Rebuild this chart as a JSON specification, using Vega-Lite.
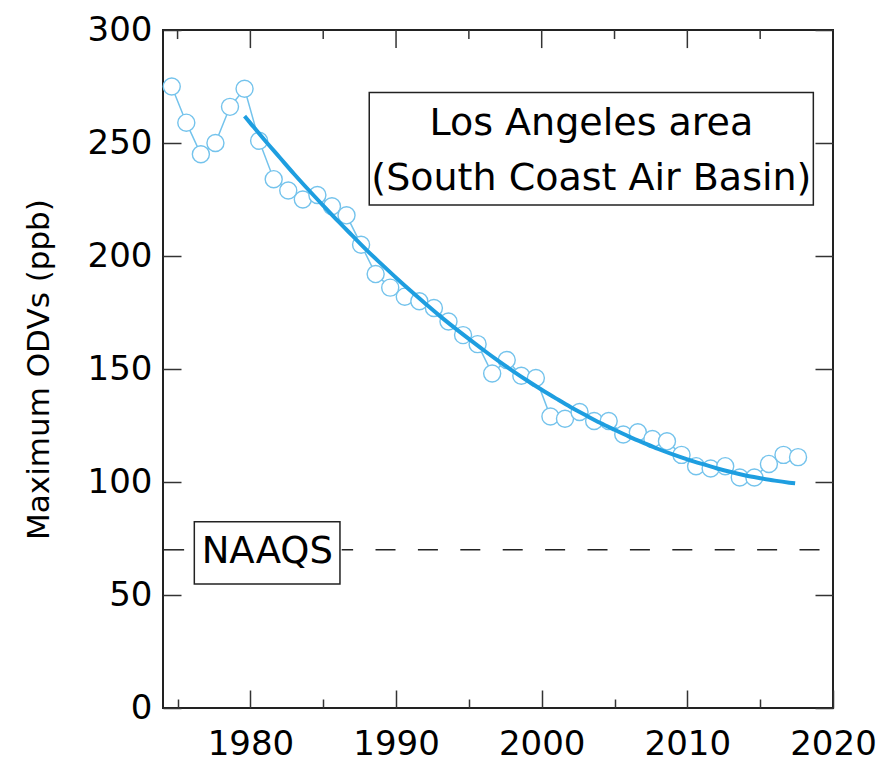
{
  "$schema": "https://vega.github.io/schema/vega-lite/v6.json",
  "autosize": {"type": "none"},
  "width": 670,
  "height": 678,
  "padding": {"left": 163, "top": 30, "right": 50, "bottom": 59},
  "background": "white",
  "config": {
    "view": {"stroke": "#222222", "strokeWidth": 2},
    "axis": {"domain": false, "grid": false, "tickColor": "#333333", "tickWidth": 1.5, "labelFont": "DejaVu Sans", "labelColor": "#000000", "titleFont": "DejaVu Sans", "titleColor": "#000000", "titleFontWeight": "normal"}
  },
  "datasets": {
    "odv": [
      {"year": 1974.6, "odv": 275}, {"year": 1975.6, "odv": 259}, {"year": 1976.6, "odv": 245},
      {"year": 1977.6, "odv": 250}, {"year": 1978.6, "odv": 266}, {"year": 1979.6, "odv": 274},
      {"year": 1980.6, "odv": 251}, {"year": 1981.6, "odv": 234}, {"year": 1982.6, "odv": 229},
      {"year": 1983.6, "odv": 225}, {"year": 1984.6, "odv": 227}, {"year": 1985.6, "odv": 222},
      {"year": 1986.6, "odv": 218}, {"year": 1987.6, "odv": 205}, {"year": 1988.6, "odv": 192},
      {"year": 1989.6, "odv": 186}, {"year": 1990.6, "odv": 182}, {"year": 1991.6, "odv": 180},
      {"year": 1992.6, "odv": 177}, {"year": 1993.6, "odv": 171}, {"year": 1994.6, "odv": 165},
      {"year": 1995.6, "odv": 161}, {"year": 1996.6, "odv": 148}, {"year": 1997.6, "odv": 154},
      {"year": 1998.6, "odv": 147}, {"year": 1999.6, "odv": 146}, {"year": 2000.6, "odv": 129},
      {"year": 2001.6, "odv": 128}, {"year": 2002.6, "odv": 131}, {"year": 2003.6, "odv": 127},
      {"year": 2004.6, "odv": 127}, {"year": 2005.6, "odv": 121}, {"year": 2006.6, "odv": 122},
      {"year": 2007.6, "odv": 119}, {"year": 2008.6, "odv": 118}, {"year": 2009.6, "odv": 112},
      {"year": 2010.6, "odv": 107}, {"year": 2011.6, "odv": 106}, {"year": 2012.6, "odv": 107},
      {"year": 2013.6, "odv": 102}, {"year": 2014.6, "odv": 102}, {"year": 2015.6, "odv": 108},
      {"year": 2016.6, "odv": 112}, {"year": 2017.6, "odv": 111}
    ],
    "fit": [
      {"year": 1979.6, "odv": 261.9}, {"year": 1980, "odv": 258.8}, {"year": 1981, "odv": 251.1},
      {"year": 1982, "odv": 243.7}, {"year": 1983, "odv": 236.3}, {"year": 1984, "odv": 229.2},
      {"year": 1985, "odv": 222.3}, {"year": 1986, "odv": 215.5}, {"year": 1987, "odv": 209.0},
      {"year": 1988, "odv": 202.5}, {"year": 1989, "odv": 196.4}, {"year": 1990, "odv": 190.4},
      {"year": 1991, "odv": 184.6}, {"year": 1992, "odv": 179.0}, {"year": 1993, "odv": 173.5},
      {"year": 1994, "odv": 168.3}, {"year": 1995, "odv": 163.3}, {"year": 1996, "odv": 158.4},
      {"year": 1997, "odv": 153.7}, {"year": 1998, "odv": 149.2}, {"year": 1999, "odv": 144.9},
      {"year": 2000, "odv": 140.8}, {"year": 2001, "odv": 136.9}, {"year": 2002, "odv": 133.1},
      {"year": 2003, "odv": 129.6}, {"year": 2004, "odv": 126.2}, {"year": 2005, "odv": 123.1},
      {"year": 2006, "odv": 120.1}, {"year": 2007, "odv": 117.3}, {"year": 2008, "odv": 114.6},
      {"year": 2009, "odv": 112.2}, {"year": 2010, "odv": 110.0}, {"year": 2011, "odv": 108.0},
      {"year": 2012, "odv": 106.1}, {"year": 2013, "odv": 104.4}, {"year": 2014, "odv": 102.9},
      {"year": 2015, "odv": 101.7}, {"year": 2016, "odv": 100.6}, {"year": 2017, "odv": 99.7},
      {"year": 2017.4, "odv": 99.4}
    ],
    "majorTicks": [{"year": 1980}, {"year": 1990}, {"year": 2000}, {"year": 2010}],
    "minorTicks": [{"year": 1975}, {"year": 1985}, {"year": 1995}, {"year": 2005}, {"year": 2015}],
    "naaqs": [{"standard": "NAAQS", "ppb": 70}],
    "site": [{"area": "Los Angeles area", "basin": "(South Coast Air Basin)"}]
  },
  "layer": [
    {
      "data": {"name": "majorTicks"},
      "mark": {"type": "rule", "color": "#333333", "strokeWidth": 1.5},
      "encoding": {
        "x": {"field": "year", "type": "quantitative",
              "scale": {"domain": [1974, 2020], "nice": false, "zero": false},
              "axis": {"orient": "bottom", "values": [1980, 1990, 2000, 2010, 2020], "format": "d", "tickSize": -18, "labelFontSize": 34, "labelPadding": 64, "labelBaseline": "alphabetic", "labelFlush": false, "labelOverlap": false, "title": null}},
        "y": {"datum": 300, "type": "quantitative",
              "scale": {"domain": [0, 300], "nice": false, "zero": true},
              "axis": {"orient": "left", "values": [0, 50, 100, 150, 200, 250, 300], "tickSize": -18, "labelFontSize": 34, "labelPadding": 29, "labelBaseline": "middle", "labelFlush": false, "labelOverlap": false,
                       "title": "Maximum ODVs (ppb)", "titleFontSize": 31, "titleX": -115, "titleY": 339, "titleAngle": -90, "titleAlign": "center", "titleBaseline": "alphabetic"}},
        "y2": {"datum": 292.0}
      }
    },
    {
      "data": {"name": "minorTicks"},
      "mark": {"type": "rule", "color": "#333333", "strokeWidth": 1.5},
      "encoding": {
        "x": {"field": "year", "type": "quantitative",
              "axis": {"orient": "bottom", "values": [1975, 1985, 1995, 2005, 2015], "tickSize": -9, "labels": false, "title": null}},
        "y": {"datum": 300, "type": "quantitative",
              "axis": {"orient": "right", "values": [0, 50, 100, 150, 200, 250, 300], "tickSize": -18, "labels": false, "title": null}},
        "y2": {"datum": 296.0}
      }
    },
    {
      "data": {"name": "odv"},
      "mark": {"type": "line", "color": "#74C3EC", "strokeWidth": 1.5},
      "encoding": {
        "x": {"field": "year", "type": "quantitative", "axis": null},
        "y": {"field": "odv", "type": "quantitative", "axis": null}
      }
    },
    {
      "data": {"name": "odv"},
      "mark": {"type": "point", "shape": "circle", "filled": true, "fill": "white", "stroke": "#74C3EC", "strokeWidth": 1.4, "size": 290, "opacity": 1},
      "encoding": {
        "x": {"field": "year", "type": "quantitative", "axis": null},
        "y": {"field": "odv", "type": "quantitative", "axis": null}
      }
    },
    {
      "data": {"name": "fit"},
      "mark": {"type": "line", "color": "#1E9EE0", "strokeWidth": 4, "interpolate": "monotone"},
      "encoding": {
        "x": {"field": "year", "type": "quantitative", "axis": null},
        "y": {"field": "odv", "type": "quantitative", "axis": null}
      }
    },
    {
      "data": {"name": "naaqs"},
      "mark": {"type": "rule", "color": "#222222", "strokeWidth": 1.5},
      "encoding": {
        "x": {"datum": 1974, "type": "quantitative", "axis": null},
        "x2": {"datum": 1975.45},
        "y": {"field": "ppb", "type": "quantitative", "axis": null}
      }
    },
    {
      "data": {"name": "naaqs"},
      "mark": {"type": "rule", "color": "#222222", "strokeWidth": 1.5, "strokeDash": [20, 22.4], "strokeDashOffset": 8.6},
      "encoding": {
        "x": {"datum": 1986.27, "type": "quantitative", "axis": null},
        "x2": {"datum": 2019.08},
        "y": {"field": "ppb", "type": "quantitative", "axis": null}
      }
    },
    {
      "data": {"name": "naaqs"},
      "mark": {"type": "rect", "fill": "white", "stroke": "#222222", "strokeWidth": 1.5},
      "encoding": {
        "x": {"datum": 1976.15, "type": "quantitative", "axis": null},
        "x2": {"datum": 1986.15},
        "y": {"datum": 82.4, "type": "quantitative", "axis": null},
        "y2": {"datum": 54.9}
      }
    },
    {
      "data": {"name": "site"},
      "mark": {"type": "rect", "fill": "white", "stroke": "#222222", "strokeWidth": 1.5},
      "encoding": {
        "x": {"datum": 1988.16, "type": "quantitative", "axis": null},
        "x2": {"datum": 2018.65},
        "y": {"datum": 272.3, "type": "quantitative", "axis": null},
        "y2": {"datum": 222.6}
      }
    },
    {
      "data": {"name": "naaqs"},
      "mark": {"type": "text", "font": "DejaVu Sans", "fontSize": 37, "color": "#000000", "align": "center", "baseline": "alphabetic"},
      "encoding": {
        "text": {"field": "standard"},
        "x": {"datum": 1981.16, "type": "quantitative", "axis": null},
        "y": {"datum": 64.0, "type": "quantitative", "axis": null}
      }
    },
    {
      "data": {"name": "site"},
      "mark": {"type": "text", "font": "DejaVu Sans", "fontSize": 38, "color": "#000000", "align": "center", "baseline": "alphabetic"},
      "encoding": {
        "text": {"field": "area"},
        "x": {"datum": 2003.41, "type": "quantitative", "axis": null},
        "y": {"datum": 253.5, "type": "quantitative", "axis": null}
      }
    },
    {
      "data": {"name": "site"},
      "mark": {"type": "text", "font": "DejaVu Sans", "fontSize": 38, "color": "#000000", "align": "center", "baseline": "alphabetic"},
      "encoding": {
        "text": {"field": "basin"},
        "x": {"datum": 2003.41, "type": "quantitative", "axis": null},
        "y": {"datum": 229.2, "type": "quantitative", "axis": null}
      }
    }
  ],
  "resolve": {"axis": {"x": "independent", "y": "independent"}}
}
